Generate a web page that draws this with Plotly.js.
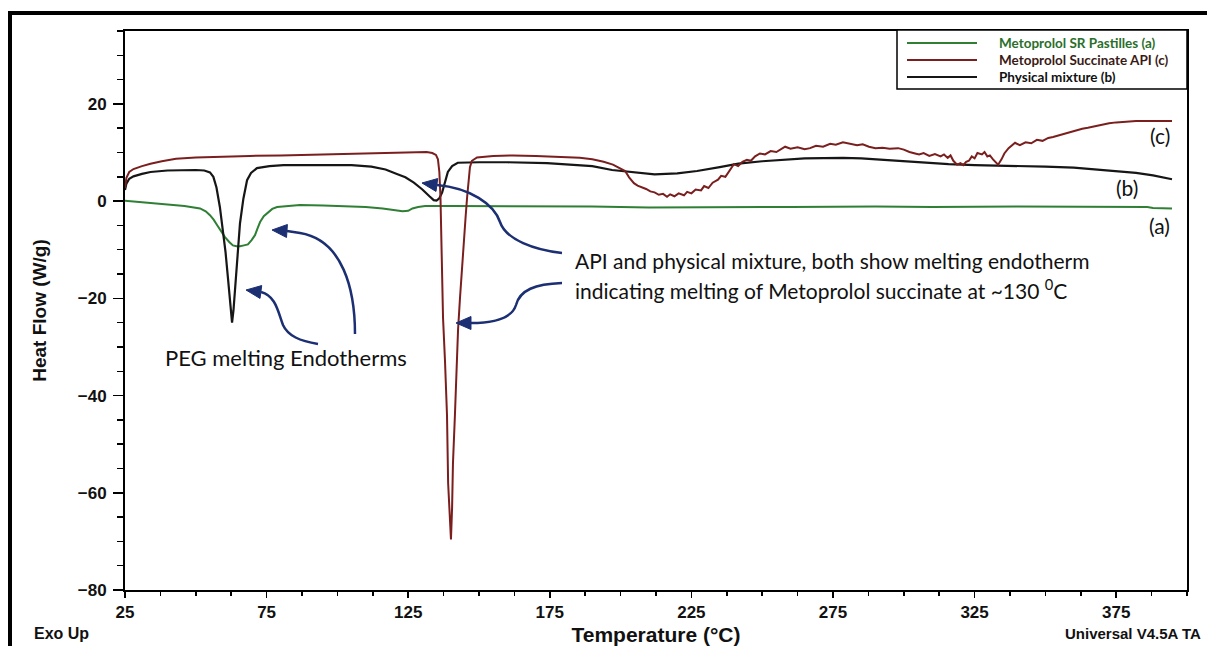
<!DOCTYPE html>
<html><head><meta charset="utf-8">
<script src="https://cdn.plot.ly/plotly-3.0.1.min.js"></script>
<style>html,body{margin:0;padding:0;background:#fff;overflow:hidden}</style>
</head><body><div id="chart" style="width:1207px;height:646px"></div>
<script>
// (a) Metoprolol SR Pastilles
const tempA = [25,27,30,34,40,46,51.5,53.5,55,56.3,57.5,59,60.3,61.8,63.1,64.4,65.6,67,68.4,69.7,70.9,71.8,72.7,74,75.5,77,78.7,82,86.8,95,104,110,116,120,123,125,126.5,128.5,131,140,160,180,190,210,230,260,290,310,340,360,380,386,388,394.7];
const hfA = [0.1,0,-0.3,-0.5,-0.8,-1.0,-1.5,-2.1,-2.9,-3.8,-4.9,-6.2,-7.4,-8.4,-9.1,-9.3,-9.3,-9.1,-8.9,-8.0,-7.0,-5.6,-4.3,-3.1,-2.3,-1.6,-1.2,-1.0,-0.8,-0.9,-1.0,-1.2,-1.5,-1.9,-2.1,-2.0,-1.5,-1.2,-1.0,-1.0,-1.0,-1.0,-1.1,-1.3,-1.3,-1.2,-1.1,-1.2,-1.1,-1.2,-1.3,-1.2,-1.4,-1.5];
// (b) Physical mixture
const tempB = [25,25.5,26.5,28,31,34,40,45,50,53,55,56.2,57.3,58.5,59.5,60.5,61.3,62.0,62.8,63.3,63.8,64.5,65.6,66.8,68.1,69.5,71.6,76,81,95,105,112,117,121,124,127,130,132.5,134.0,135.0,136.0,137.0,138.0,139.0,140.5,142.5,150,160,174,183,190,197,204.7,212,220,227,235,241.6,250,256,265,278.5,285,293,305,315.8,325,338,350,360,367.5,375,382,388,394.7];
const hfB = [2.3,3.6,4.6,5.1,5.6,6.0,6.3,6.4,6.4,6.3,5.9,5.0,2.8,-1.2,-5.5,-10.5,-15.5,-20.5,-25.0,-22.5,-18.4,-12,-4.6,0.5,4.3,5.8,6.8,7.2,7.4,7.4,7.4,7.1,6.5,5.6,4.9,3.8,2.4,1.0,0.2,0.1,0.6,1.8,4.0,6.0,7.2,7.9,8.0,8.0,7.8,7.5,7.2,6.4,5.9,5.5,5.7,6.2,7.0,7.7,8.2,8.5,8.8,8.9,8.8,8.5,8.0,7.6,7.4,7.3,7.1,6.9,6.5,6.2,5.8,5.3,4.5];
// (c) Metoprolol Succinate API
const tempC = [25,25.5,26.5,28,31,34,38,43,50,60,
  69,80,95,105,115,125,131.5,133.5,134.8,135.5,
  136.0,136.4,136.9,137.3,138.0,138.7,139.1,139.5,139.8,140.1,
  140.5,140.8,141.5,142.0,142.6,143.3,144.4,145.3,145.8,146.3,
  146.8,147.5,149.3,155,162,170,178,185.6,190,194,
  197.3,199.5,201.6,203,204.7,206,207.5,209,210.5,212,
  213.5,215,216.4,217.5,219,220.5,222.4,223.5,225,226.5,
  228.4,229.5,231,232.5,234.4,235.5,237,238.5,240,241.5,
  243,244.6,246,247.5,249.2,251,253,255,258.1,260,
  262.5,265,266.9,269,271.5,274,276,278.5,281,283.5,
  285.5,287.7,290,292.5,295,298,300,302,304,305.4,
  307,309,311,313,314.2,315.5,316.5,317.5,318.8,320,
  321,322,323,324,325,326,327.6,328.5,329.5,330.4,
  331.5,332.5,333.3,334.5,335.5,337,339.3,341,343,345,
  347,349,351,352.7,355,357,359,361,363,365,
  367.5,370,372.5,375,377,379.2,382,386,390,394.7];
const hfC = [2.7,4.8,6.0,6.6,7.2,7.7,8.2,8.7,9.0,9.2,
  9.3,9.4,9.6,9.8,9.9,10.0,10.1,9.9,9.5,8.6,
  6.0,0.8,-12.5,-24,-33,-44,-58,-64,-68,-69.6,
  -63,-54,-44,-35,-26.5,-19.8,-9.5,-3,0.8,4.5,
  7.0,8.3,9.0,9.3,9.4,9.3,9.1,8.9,8.6,8.1,
  7.5,6.9,6.2,4.9,3.7,3.2,2.9,2.5,2.0,1.8,
  1.3,1.5,0.9,1.4,1.0,1.6,1.2,1.9,1.6,2.4,
  2.2,3.1,2.7,3.8,4.4,5.2,5.0,6.4,7.6,7.2,
  8.1,8.5,8.3,9.2,9.8,9.6,10.3,10.1,11.2,10.8,
  11.1,10.7,10.9,11.4,11.2,11.8,11.6,12.1,11.8,11.5,
  11.7,11.2,10.9,11.0,10.8,10.9,10.6,10.1,9.8,9.6,
  9.9,9.3,9.7,9.2,9.6,8.9,9.4,8.3,7.5,7.8,
  7.4,8.1,8.3,9.2,8.8,9.9,9.6,10.1,9.2,9.4,
  8.6,7.9,7.5,8.6,9.8,10.9,12.0,11.5,12.1,11.9,
  12.6,12.4,13.0,13.2,13.6,13.9,14.3,14.5,14.9,15.1,
  15.4,15.8,16.0,16.2,16.3,16.4,16.5,16.5,16.5,16.5];

const seriesNames = ['Metoprolol SR Pastilles (a)','Metoprolol Succinate API (c)','Physical mixture (b)'];
const xTickVals = [25,75,125,175,225,275,325,375];
const yTickVals = [-80,-60,-40,-20,0,20];
const curveLabels = ['(c)','(b)','(a)'];
const noteLines = ['API and physical mixture, both show melting endotherm','indicating melting of Metoprolol succinate at ~130 <sup>0</sup>C'];
const pegNote = 'PEG melting Endotherms';

const colA = '#2f7f35', colC = '#7a1e1e', colB = '#161616', navy = '#1b2f72';

const W=1207, H=646, ML=125, MR=20, MT=31, MB=56;
const PW=W-ML-MR, PH=H-MT-MB;
const px = x => (x-ML)/PW;
const py = y => (H-MB-y)/PH;
const P = (x,y) => px(x).toFixed(5)+','+py(y).toFixed(5);
function head(tx,ty,fx,fy){
  const dx=tx-fx, dy=ty-fy, len=Math.hypot(dx,dy), ux=dx/len, uy=dy/len;
  const Lh=15, Wh=6.5, bx=tx-ux*Lh, by=ty-uy*Lh, nx=-uy, ny=ux;
  return `M ${P(tx,ty)} L ${P(bx+nx*Wh,by+ny*Wh)} L ${P(bx-nx*Wh,by-ny*Wh)} Z`;
}

const traces = [
  {x: tempA, y: hfA, type:'scatter', mode:'lines', name: seriesNames[0], line:{color:colA, width:2}},
  {x: tempB, y: hfB, type:'scatter', mode:'lines', name: seriesNames[2], line:{color:colB, width:2.2}},
  {x: tempC, y: hfC, type:'scatter', mode:'lines', name: seriesNames[1], line:{color:colC, width:2}}
];

const shapes = [];
const annotations = [];
// outer frame
shapes.push({type:'rect', xref:'paper', yref:'paper', x0:px(10), x1:px(1240), y0:py(700), y1:py(13), line:{color:'#000', width:4}, layer:'above'});
// custom legend
shapes.push({type:'rect', xref:'paper', yref:'paper', x0:px(897), x1:px(1187), y0:py(89), y1:py(30), fillcolor:'#fff', line:{color:'#000', width:1.5}, layer:'above'});
const legY=[43,60,77], legCols=[colA,colC,colB], legText=['#2a6e2a','#3a1a16','#111'];
for(let i=0;i<3;i++){
  shapes.push({type:'line', xref:'paper', yref:'paper', x0:px(907), x1:px(977), y0:py(legY[i]), y1:py(legY[i]), line:{color:legCols[i], width:2}, layer:'above'});
  annotations.push({xref:'paper', yref:'paper', x:px(997), y:py(legY[i]), xanchor:'left', yanchor:'middle', showarrow:false, text:seriesNames[i], font:{family:'Lato', size:13.5, weight:'bold', color:legText[i]}});
}
// arrows
const arrowPaths = [
  `M ${P(318,344)} C ${P(300,341)} ${P(288,336)} ${P(283,325)} C ${P(278,312)} ${P(276,296)} ${P(261,292)}`,
  `M ${P(355,334)} C ${P(355,290)} ${P(343,240)} ${P(300,233)} L ${P(287,231)}`,
  `M ${P(562,253)} C ${P(535,250)} ${P(506,240)} ${P(500,222)} C ${P(494,204)} ${P(470,188)} ${P(437,185)}`,
  `M ${P(562,283)} C ${P(535,284)} ${P(520,290)} ${P(516,305)} C ${P(512,318)} ${P(495,323)} ${P(471,323)}`
];
arrowPaths.forEach(p => shapes.push({type:'path', xref:'paper', yref:'paper', path:p, line:{color:navy, width:2.5}, layer:'above'}));
[[246,290,261,292],[272,230,287,231],[422,183,437,185],[456,323,471,323]].forEach(h =>
  shapes.push({type:'path', xref:'paper', yref:'paper', path:head(...h), fillcolor:navy, line:{color:navy, width:1}, layer:'above'}));

const txt = (text,x,y,opts={}) => annotations.push(Object.assign({xref:'paper', yref:'paper', x:px(x), y:py(y), xanchor:'left', yanchor:'middle', showarrow:false, text:text, font:{family:'Lato', size:21, color:'#111'}}, opts));
txt(pegNote, 163, 358, {font:{family:'Lato', size:22, color:'#111'}});
txt(noteLines[0], 573, 260);
txt(noteLines[1], 573, 289);
txt(curveLabels[0], 1172, 135, {xanchor:'right'});
txt(curveLabels[1], 1140, 188, {xanchor:'right'});
txt(curveLabels[2], 1172, 225, {xanchor:'right'});
txt('Exo Up', 32, 633, {font:{family:'Liberation Sans', size:16, weight:'bold', color:'#111'}});
txt('Universal V4.5A TA', 1203, 633, {xanchor:'right', font:{family:'Liberation Sans', size:15, weight:'bold', color:'#111'}});

const layout = {
  width: W, height: H,
  margin: {l:ML, r:MR, t:MT, b:MB, pad:0},
  paper_bgcolor:'#fff', plot_bgcolor:'#fff',
  showlegend:false,
  font:{family:'Liberation Sans', color:'#111'},
  xaxis: {
    range:[25,400], tickvals:xTickVals, ticks:'outside', ticklen:6, tickwidth:1.5, tickcolor:'#000',
    minor:{dtick:12.5, tick0:25, ticks:'outside', ticklen:4, tickwidth:1.5, tickcolor:'#000'},
    showline:true, linecolor:'#000', linewidth:2, mirror:true, showgrid:false, zeroline:false,
    tickfont:{family:'Liberation Sans', size:17, weight:'bold', color:'#111'},
    title:{text:'Temperature (°C)', font:{family:'Liberation Sans', size:21, weight:'bold', color:'#111'}, standoff:8}
  },
  yaxis: {
    range:[-80,35], tickvals:yTickVals, ticks:'outside', ticklen:10, tickwidth:1.5, tickcolor:'#000',
    minor:{dtick:5, tick0:0, ticks:'outside', ticklen:6, tickwidth:1.5, tickcolor:'#000'},
    showline:true, linecolor:'#000', linewidth:2, mirror:true, showgrid:false, zeroline:false,
    ticklabelstandoff:3,
    tickfont:{family:'Liberation Sans', size:17, weight:'bold', color:'#111'},
    title:{text:'Heat Flow (W/g)', font:{family:'Liberation Sans', size:19, weight:'bold', color:'#111'}, standoff:26}
  },
  shapes: shapes,
  annotations: annotations
};
Plotly.newPlot('chart', traces, layout, {displayModeBar:false, staticPlot:true});
</script></body></html>
